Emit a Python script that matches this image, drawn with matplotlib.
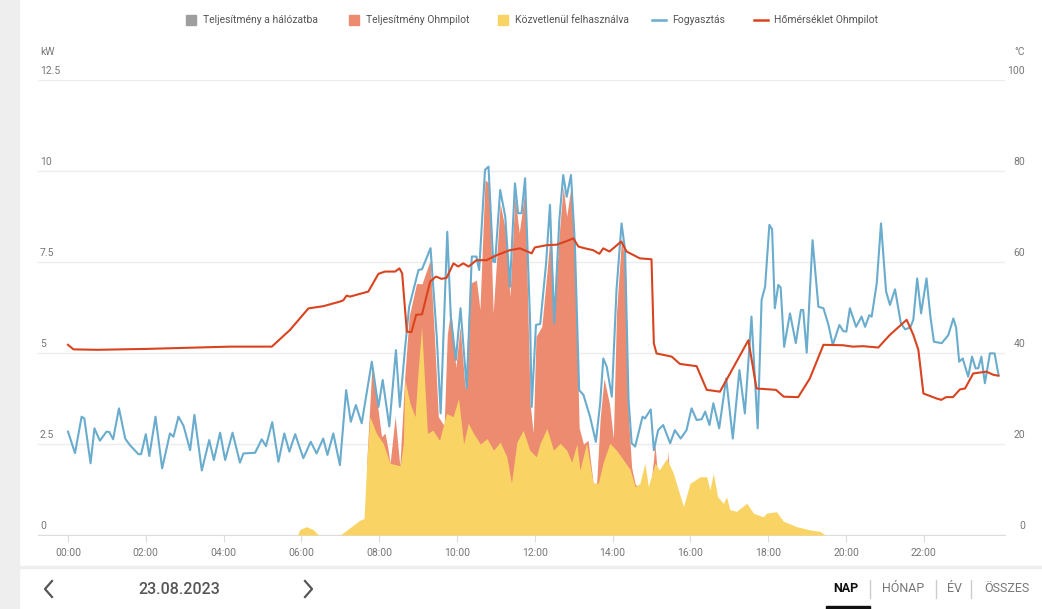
import matplotlib
matplotlib.use("Agg")
import matplotlib.pyplot as plt
from matplotlib.patches import Rectangle
from matplotlib.lines import Line2D

plt.rcParams['font.family'] = ['Roboto', 'DejaVu Sans']

# ---- data (hours of day / kW / degC) ----
cons_t = [0.0, 0.18, 0.35, 0.42, 0.58, 0.68, 0.82, 0.99, 1.06, 1.16,
          1.31, 1.47, 1.59, 1.81, 1.88, 2.0, 2.09, 2.25, 2.42, 2.62,
          2.71, 2.84, 2.97, 3.14, 3.25, 3.44, 3.63, 3.75, 3.91, 4.04,
          4.23, 4.42, 4.51, 4.81, 4.98, 5.09, 5.25, 5.41, 5.56, 5.69,
          5.84, 6.05, 6.24, 6.39, 6.56, 6.67, 6.82, 6.99, 7.15, 7.27,
          7.40, 7.55, 7.81, 7.98, 8.09, 8.26, 8.43, 8.53, 8.66, 8.77,
          9.01, 9.1, 9.32, 9.48, 9.58, 9.75, 9.84, 9.97, 10.09, 10.25,
          10.38, 10.5, 10.57, 10.72, 10.81, 10.93, 10.98, 11.11, 11.24, 11.36,
          11.49, 11.57, 11.66, 11.75, 11.88, 11.92, 12.03, 12.14, 12.29, 12.39,
          12.5, 12.63, 12.73, 12.82, 12.93, 13.03, 13.14, 13.25, 13.42, 13.57,
          13.68, 13.76, 13.85, 13.98, 14.1, 14.23, 14.32, 14.41, 14.49, 14.58,
          14.77, 14.83, 14.98, 15.06, 15.17, 15.3, 15.48, 15.6, 15.75, 15.9,
          16.03, 16.16, 16.29, 16.38, 16.49, 16.59, 16.74, 16.92, 17.09, 17.26,
          17.4, 17.57, 17.73, 17.83, 17.92, 18.03, 18.1, 18.17, 18.26, 18.32,
          18.41, 18.56, 18.71, 18.84, 18.9, 18.99, 19.14, 19.29, 19.42, 19.55,
          19.66, 19.83, 19.93, 20.01, 20.1, 20.26, 20.4, 20.49, 20.6, 20.66,
          20.79, 20.9, 21.03, 21.13, 21.26, 21.41, 21.52, 21.65, 21.73, 21.83,
          21.93, 22.07, 22.17, 22.26, 22.46, 22.63, 22.76, 22.83, 22.91, 23.0,
          23.14, 23.24, 23.33, 23.4, 23.48, 23.57, 23.7, 23.82, 23.92]
cons_kw = [2.84, 2.25, 3.25, 3.2, 1.97, 2.93, 2.59, 2.84, 2.83, 2.63,
           3.48, 2.65, 2.47, 2.22, 2.22, 2.77, 2.17, 3.25, 1.83, 2.79,
           2.70, 3.25, 3.0, 2.33, 3.30, 1.77, 2.61, 2.06, 2.81, 2.06,
           2.81, 1.99, 2.24, 2.26, 2.63, 2.44, 3.10, 2.01, 2.79, 2.29,
           2.77, 2.11, 2.56, 2.24, 2.65, 2.20, 2.79, 1.92, 3.98, 3.11,
           3.57, 3.07, 4.76, 3.52, 4.26, 2.98, 5.08, 3.52, 5.08, 6.27,
           7.28, 7.3, 7.88, 5.45, 3.34, 8.33, 6.0, 4.81, 6.23, 4.03,
           7.65, 7.65, 7.28, 10.03, 10.12, 7.51, 7.5, 9.48, 8.75, 6.82,
           9.66, 8.84, 8.84, 9.80, 5.82, 3.52, 5.77, 5.8, 7.46, 9.07,
           5.82, 8.65, 9.89, 9.29, 9.89, 8.01, 3.98, 3.85, 3.25, 2.56,
           3.62, 4.85, 4.62, 3.80, 6.73, 8.56, 7.83, 3.71, 2.52, 2.43,
           3.25, 3.2, 3.45, 2.33, 2.88, 3.02, 2.52, 2.88, 2.65, 2.88,
           3.48, 3.16, 3.18, 3.39, 3.02, 3.62, 2.93, 4.30, 2.65, 4.53,
           3.34, 6.0, 2.93, 6.46, 6.82, 8.52, 8.4, 6.23, 6.87, 6.8,
           5.17, 6.09, 5.27, 6.18, 6.18, 5.01, 8.10, 6.27, 6.23, 5.77,
           5.22, 5.77, 5.6, 5.59, 6.23, 5.72, 6.0, 5.72, 6.04, 6.0,
           6.91, 8.56, 6.69, 6.32, 6.75, 5.82, 5.65, 5.7, 5.91, 7.05,
           6.09, 7.05, 6.0, 5.31, 5.27, 5.49, 5.95, 5.7, 4.76, 4.85,
           4.35, 4.90, 4.58, 4.58, 4.9, 4.17, 4.99, 4.99, 4.40]

# directly used PV power (yellow area)
yel_t = [5.9, 5.96, 6.13, 6.3, 6.44, 7.0, 7.25, 7.51, 7.61, 7.68,
         7.76, 7.93, 8.1, 8.28, 8.54, 8.62, 8.66, 8.79, 8.92, 9.0,
         9.09, 9.24, 9.38, 9.55, 9.73, 9.9, 10.04, 10.17, 10.29, 10.42,
         10.6, 10.77, 10.94, 11.11, 11.28, 11.4, 11.54, 11.7, 11.87, 12.04,
         12.13, 12.31, 12.48, 12.65, 12.82, 12.95, 13.08, 13.16, 13.33, 13.5,
         13.63, 13.76, 13.93, 14.1, 14.28, 14.45, 14.58, 14.7, 14.83, 14.92,
         15.09, 15.2, 15.39, 15.56, 15.82, 15.99, 16.25, 16.42, 16.5, 16.59,
         16.7, 16.85, 16.93, 17.01, 17.18, 17.45, 17.62, 17.87, 17.96, 18.21,
         18.39, 18.73, 19.07, 19.33, 19.46]
yel_kw = [0.0, 0.15, 0.23, 0.15, 0.0, 0.0, 0.2, 0.41, 0.45, 2.0,
          3.25, 2.79, 2.52, 1.97, 1.9, 2.5, 4.26, 3.62, 3.25, 4.5,
          5.72, 2.79, 2.88, 2.6, 3.34, 3.25, 3.75, 2.5, 3.07, 2.8,
          2.5, 2.65, 2.33, 2.55, 2.15, 1.42, 2.55, 2.88, 2.33, 2.15,
          2.5, 2.93, 2.33, 2.52, 2.33, 2.0, 2.5, 1.78, 2.52, 1.42,
          1.42, 2.0, 2.52, 2.33, 2.06, 1.8, 1.33, 1.42, 1.97, 1.33,
          1.97, 1.79, 2.1, 1.7, 0.78, 1.42, 1.6, 1.6, 1.24, 1.69,
          1.05, 0.87, 1.05, 0.7, 0.65, 0.87, 0.6, 0.5, 0.6, 0.64,
          0.38, 0.23, 0.14, 0.1, 0.0]

# top of the stacked Ohmpilot area (orange)
ohm_t = [7.68, 7.76, 7.81, 7.95, 8.06, 8.15, 8.22, 8.28, 8.41, 8.53,
         8.66, 8.77, 8.96, 9.1, 9.31, 9.42, 9.52, 9.67, 9.75, 9.84,
         9.97, 10.08, 10.21, 10.33, 10.5, 10.59, 10.72, 10.83, 10.93, 11.11,
         11.24, 11.36, 11.49, 11.6, 11.75, 11.88, 11.96, 12.03, 12.18, 12.31,
         12.41, 12.5, 12.63, 12.73, 12.82, 12.93, 13.03, 13.14, 13.25, 13.37,
         13.5, 13.59, 13.68, 13.78, 13.92, 14.02, 14.1, 14.23, 14.33, 14.41,
         14.49, 14.58, 14.95, 15.09, 15.2, 15.35, 15.42, 15.5]
ohm_kw = [2.0, 3.6, 4.58, 3.62, 2.7, 2.8, 2.4, 1.97, 3.25, 1.9,
          4.4, 6.0, 6.91, 6.9, 7.55, 5.45, 3.25, 3.0, 5.5, 6.2,
          4.6, 5.73, 4.0, 6.91, 7.0, 6.2, 9.75, 9.66, 6.09, 9.11,
          8.4, 6.55, 9.3, 8.3, 9.5, 3.6, 2.8, 5.45, 5.73, 7.19,
          8.42, 6.1, 8.3, 9.57, 8.75, 9.57, 7.8, 2.95, 2.5, 2.6,
          1.42, 1.42, 3.2, 4.3, 3.6, 2.65, 6.1, 8.15, 7.45, 3.2,
          1.85, 1.4, 1.0, 2.5, 1.0, 1.0, 2.3, 1.0]

temp_t = [0.0, 0.14, 0.74, 2.02, 3.31, 4.16, 5.24, 5.71, 6.18, 6.57,
          6.99, 7.08, 7.16, 7.25, 7.72, 7.98, 8.15, 8.41, 8.52, 8.59,
          8.71, 8.83, 8.95, 9.1, 9.31, 9.46, 9.6, 9.73, 9.91, 10.03,
          10.16, 10.3, 10.5, 10.76, 11.02, 11.36, 11.62, 11.92, 12.0, 12.31,
          12.56, 12.82, 12.99, 13.12, 13.29, 13.5, 13.66, 13.76, 13.92, 14.22,
          14.36, 14.7, 15.0, 15.06, 15.13, 15.52, 15.73, 16.16, 16.42, 16.76,
          17.49, 17.7, 18.2, 18.4, 18.77, 19.07, 19.42, 19.93, 20.17, 20.44,
          20.83, 21.13, 21.56, 21.73, 21.86, 21.99, 22.33, 22.45, 22.57, 22.75,
          22.93, 23.06, 23.27, 23.61, 23.79, 23.92]
temp_c = [41.8, 40.8, 40.7, 40.9, 41.2, 41.4, 41.4, 45.1, 49.8, 50.3,
          51.3, 51.6, 52.6, 52.4, 53.5, 57.4, 57.9, 57.9, 58.6, 57.5,
          44.7, 44.6, 48.4, 48.5, 55.7, 56.8, 56.3, 56.5, 59.7, 59.0,
          59.7, 59.0, 60.4, 60.4, 61.5, 62.6, 63.0, 61.9, 63.2, 63.7,
          63.8, 64.6, 65.2, 63.4, 63.0, 62.6, 61.8, 63.0, 62.3, 64.5,
          62.3, 60.8, 60.6, 42.1, 39.9, 39.2, 37.6, 37.1, 31.9, 31.5,
          42.8, 32.2, 31.9, 30.4, 30.3, 34.4, 41.8, 41.7, 41.4, 41.5,
          41.2, 44.0, 47.3, 44.0, 40.7, 31.1, 30.0, 29.7, 30.3, 30.3,
          32.0, 32.2, 35.5, 35.9, 35.2, 35.0]

kw_ticks = [0, 2.5, 5, 7.5, 10, 12.5]
kw_labels = ["0", "2.5", "5", "7.5", "10", "12.5"]
c_ticks = [0, 20, 40, 60, 80, 100]
hour_ticks = list(range(0, 24, 2))
hour_labels = [f"{h:02d}:00" for h in hour_ticks]

legend_items = [("Teljesítmény a hálózatba", "box", "#9e9e9e"),
                ("Teljesítmény Ohmpilot", "box", "#ec8b70"),
                ("Közvetlenül felhasználva", "box", "#f9d465"),
                ("Fogyasztás", "line", "#6aaccd"),
                ("Hőmérséklet Ohmpilot", "line", "#d9431f")]

BLUE, RED, ORANGE, YELLOW = "#6aaccd", "#d9431f", "#ec8b70", "#f9d465"
GRID, TXT = "#ececec", "#777777"

W, H = 1042, 609
fig = plt.figure(figsize=(W / 100, H / 100), dpi=100)

def fx(px):
    return px / W

def fy(py):
    return 1 - py / H

# page chrome
fig.patches.append(Rectangle((0, 0), fx(19), 1, transform=fig.transFigure,
                             color="#eeeeee", zorder=0))
fig.patches.append(Rectangle((fx(19), fy(568)), 1, 2 / H, transform=fig.transFigure,
                             color="#eeeeee", zorder=0))

# ---- main axes ----
X0, X1, Y0, Y1 = 38, 1005, 535, 80
ax = fig.add_axes([fx(X0), fy(Y0), fx(X1) - fx(X0), (Y0 - Y1) / H])
ax.set_xlim((X0 - 68) / 38.9, (X1 - 68) / 38.9)
ax.set_ylim(0, 12.5)
ax.set_facecolor("none")
for s in ("top", "left", "right"):
    ax.spines[s].set_visible(False)
ax.spines["bottom"].set_color("#dddddd")
ax.set_yticks(kw_ticks)
ax.tick_params(axis="y", length=0, labelleft=False)
ax.yaxis.grid(True, color=GRID, lw=1)
ax.set_axisbelow(True)
ax.set_xticks(hour_ticks)
ax.set_xticklabels(hour_labels, fontsize=7.5, color=TXT)
ax.tick_params(axis="x", length=5, color="#dddddd", pad=4)

ax.fill_between(ohm_t, 0, ohm_kw, color=ORANGE, lw=0, zorder=2)
ax.fill_between(yel_t, 0, yel_kw, color=YELLOW, lw=0, zorder=3)
ax.plot(cons_t, cons_kw, color=BLUE, lw=1.5, solid_joinstyle="round", zorder=4)

for v, lbl in zip(kw_ticks, kw_labels):
    ax.annotate(lbl, xy=(0.002, v), xycoords=("axes fraction", "data"),
                xytext=(0, 3), textcoords="offset points",
                ha="left", va="bottom", fontsize=7.5, color=TXT)

ax2 = ax.twinx()
ax2.set_ylim(0, 100)
ax2.set_axis_off()
ax2.plot(temp_t, temp_c, color=RED, lw=1.5, solid_joinstyle="round", zorder=5)
for v in c_ticks:
    ax2.annotate(str(v), xy=((1025 - X0) / (X1 - X0), v),
                 xycoords=("axes fraction", "data"),
                 xytext=(0, 3), textcoords="offset points",
                 ha="right", va="bottom", fontsize=7.5, color=TXT)

fig.text(fx(40), fy(52), "kW", fontsize=7.5, color=TXT, ha="left", va="center")
fig.text(fx(1025), fy(52), "°C", fontsize=7.5, color=TXT, ha="right", va="center")

# ---- legend ----
leg_x = [186, 349, 498, 652, 754]
for (lbl, kind, col), x in zip(legend_items, leg_x):
    if kind == "box":
        fig.patches.append(Rectangle((fx(x), fy(25)), 10 / W, 10 / H,
                                     transform=fig.transFigure, color=col))
        tx = x + 17
    else:
        fig.lines.append(Line2D([fx(x), fx(x + 14)], [fy(20), fy(20)],
                                transform=fig.transFigure, color=col, lw=1.8))
        tx = x + 20
    fig.text(fx(tx), fy(20), lbl, fontsize=7.5, color="#555555",
             ha="left", va="center")

# ---- bottom navigation ----
for pts in ([(52, 581), (45, 589), (52, 597)], [(305, 581), (312, 589), (305, 597)]):
    fig.lines.append(Line2D([fx(p[0]) for p in pts], [fy(p[1]) for p in pts],
                            transform=fig.transFigure, color="#555555", lw=1.6))
fig.text(fx(179), fy(589), "23.08.2023", fontsize=11.5, color="#555555",
         ha="center", va="center", fontweight="medium")
fig.text(fx(846), fy(589), "NAP", fontsize=9, color="#111111",
         ha="center", va="center", fontweight="bold")
fig.patches.append(Rectangle((fx(826), 0), 44 / W, 3 / H,
                             transform=fig.transFigure, color="#111111"))
for x, t in [(903, "HÓNAP"), (954, "ÉV"), (1007, "ÖSSZES")]:
    fig.text(fx(x), fy(589), t, fontsize=9, color="#777777",
             ha="center", va="center")
for x in (870, 936, 971):
    fig.lines.append(Line2D([fx(x), fx(x)], [fy(580), fy(598)],
                            transform=fig.transFigure, color="#cccccc", lw=1))

fig.savefig("out.png", dpi=100)
